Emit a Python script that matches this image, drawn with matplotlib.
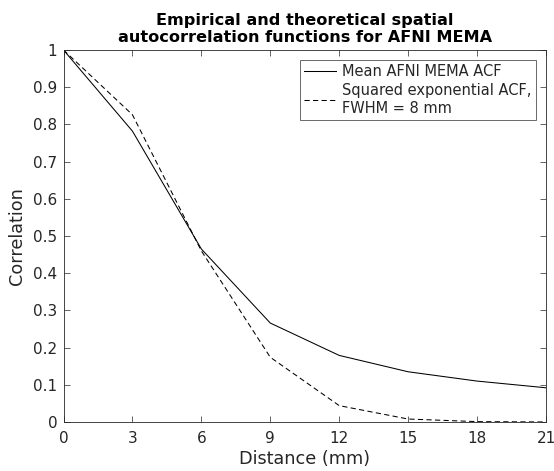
import matplotlib
matplotlib.use("Agg")
import matplotlib.pyplot as plt

# Spatial autocorrelation as a function of distance
distance_mm = [0, 3, 6, 9, 12, 15, 18, 21]
mean_acf = [1.0, 0.782, 0.465, 0.266, 0.179, 0.135, 0.110, 0.092]
sqexp_acf = [1.0, 0.826, 0.460, 0.174, 0.044, 0.008, 0.001, 0.0001]

x_ticks = [0, 3, 6, 9, 12, 15, 18, 21]
y_ticks = [0, 0.1, 0.2, 0.3, 0.4, 0.5, 0.6, 0.7, 0.8, 0.9, 1]
y_tick_labels = ["0", "0.1", "0.2", "0.3", "0.4", "0.5", "0.6", "0.7", "0.8", "0.9", "1"]

txt = "#262626"
plt.rcParams["font.family"] = ["DejaVu Sans"]

fig = plt.figure(figsize=(5.54, 4.71), dpi=100)
ax = fig.add_axes([63.5 / 554, 1 - 422 / 471, (546 - 63.5) / 554, (422 - 50) / 471])

ax.plot(distance_mm, mean_acf, color="black", lw=0.75, label="Mean AFNI MEMA ACF")
ax.plot(distance_mm, sqexp_acf, color="black", lw=0.75, linestyle=(0, (5, 3.2)),
        label="Squared exponential ACF,\nFWHM = 8 mm")

ax.set_xlim(0, 21)
ax.set_ylim(0, 1)
ax.set_xticks(x_ticks)
ax.set_xticklabels([str(t) for t in x_ticks])
ax.set_yticks(y_ticks)
ax.set_yticklabels(y_tick_labels)
ax.tick_params(direction="in", length=4, width=0.5, colors=txt, labelsize=11,
               top=True, right=True)
ax.tick_params(axis="x", pad=6.5)
ax.tick_params(axis="y", pad=4.5)
for s in ax.spines.values():
    s.set_linewidth(0.6)
    s.set_color(txt)

ax.set_xlabel("Distance (mm)", fontsize=12.7, color=txt, labelpad=2.5)
ax.set_ylabel("Correlation", fontsize=12.7, color=txt, labelpad=5)
ax.set_title("Empirical and theoretical spatial\nautocorrelation functions for AFNI MEMA",
             fontsize=11.6, fontweight="bold", color="black", pad=6, linespacing=1.15)

leg = ax.legend(loc="upper right", fontsize=10.5, frameon=True, fancybox=False,
                edgecolor=txt, handlelength=2.2, handletextpad=0.45,
                borderpad=0.28, labelspacing=0.28, borderaxespad=0.7)
leg.get_frame().set_linewidth(0.6)
for t in leg.get_texts():
    t.set_color(txt)
    t.set_linespacing(1.2)

fig.savefig("out.png", dpi=100)
